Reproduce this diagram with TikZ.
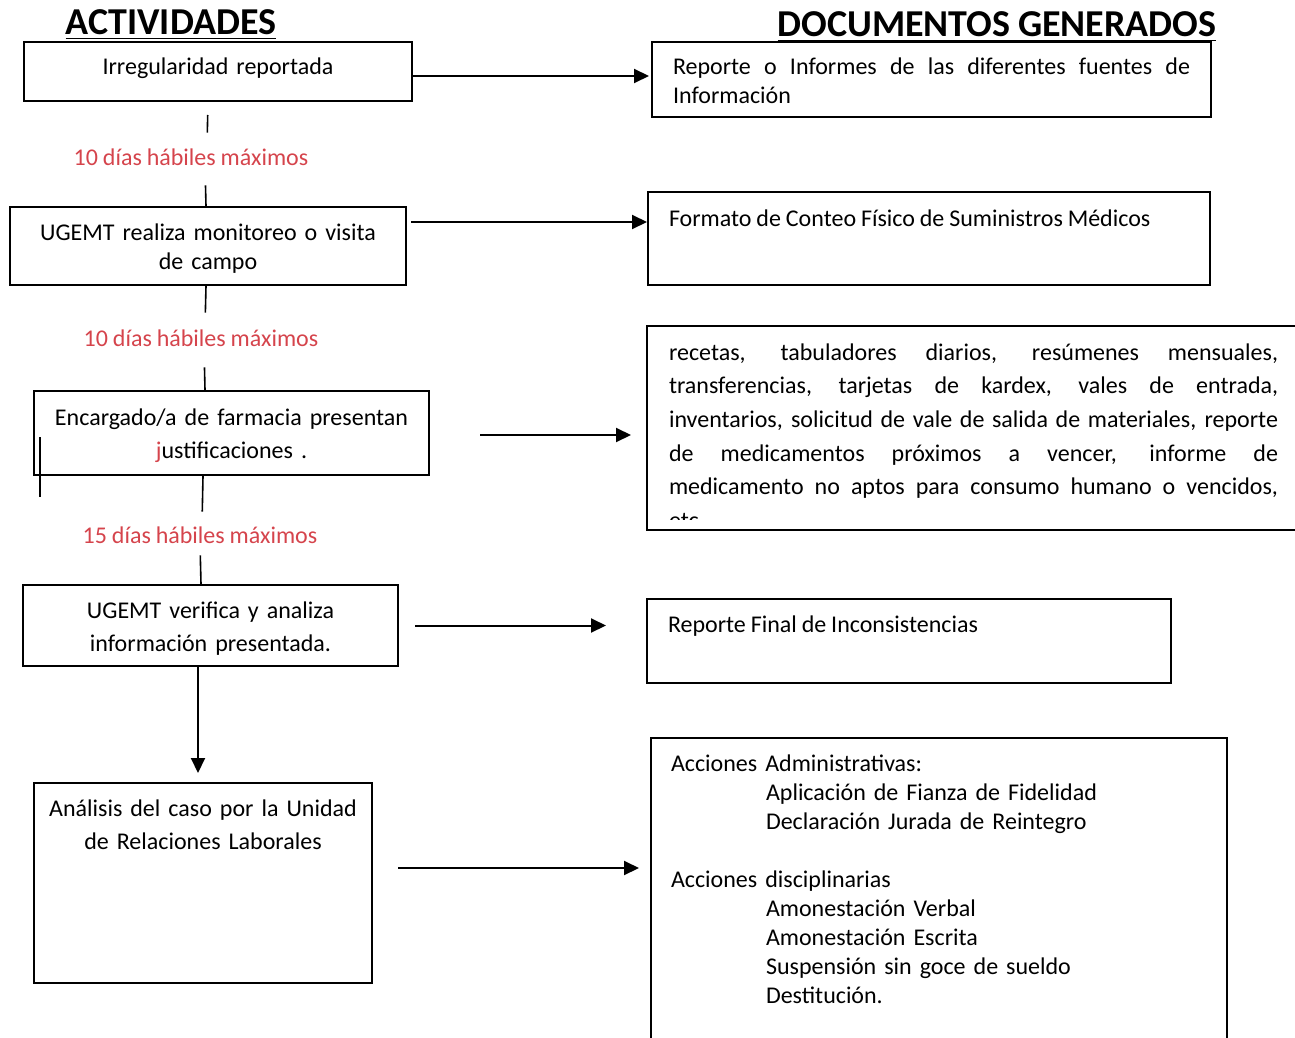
\documentclass[tikz,border=0pt]{standalone}
\usepackage{fontspec}
\setmainfont{Carlito}[WordSpace=0.9]
\usepackage{tikz}
\usetikzlibrary{arrows.meta,calc}
\definecolor{rojo}{RGB}{213,68,76}

\begin{document}
\begin{tikzpicture}[x=0.5pt, y=-0.5pt,
		caja/.style={draw, line width=1pt, anchor=north west, inner ysep=0pt},
		actividad/.style={caja, align=center, inner xsep=2pt, font=\fontsize{12}{16.5}\selectfont},
		documento/.style={caja, align=justify, inner xsep=10.5pt, font=\fontsize{12}{14.5}\selectfont},
		plazo/.style={text=rojo, anchor=base, inner sep=0pt, text height=9pt, text depth=0pt, font=\fontsize{12}{14.5}\selectfont},
		tramo/.style={line width=0.8pt},
		flecha/.style={line width=1pt, -{Triangle[length=7.5pt, width=7pt]}},
		titulo/.style={anchor=base, inner sep=0pt, font=\fontsize{19}{22}\selectfont\bfseries}]
		\useasboundingbox (0,0) rectangle (1295,1038);
		\node[titulo] (act) at (171,35) {\underline{ACTIVIDADES}};
		\node[titulo] (doc) at (997,37) {\underline{DOCUMENTOS GENERADOS}};

		\node[actividad, text width=190pt, text height=16.5pt, text depth=13pt] (irr) at (23,41) {Irregularidad reportada};
		\node[actividad, text width=194pt, text height=16.5pt, text depth=22.5pt, font=\fontsize{12}{14.5}\selectfont] (campo) at (9,206) {UGEMT realiza monitoreo o visita\\de campo};
		\node[actividad, text width=193.5pt, text height=17pt, text depth=25pt] (farm) at (33,390) {Encargado/a de farmacia presentan\\\textcolor{rojo}{j}ustificaciones .};
		\node[actividad, text width=183.5pt, text height=16.5pt, text depth=24pt] (verif) at (22,584) {UGEMT verifica y analiza\\información presentada.};
		\node[actividad, text width=165pt, text height=16.5pt, text depth=83.5pt] (anal) at (33,782) {Análisis del caso por la Unidad\\de Relaciones Laborales};

		\node[plazo] (lab1) at (191,165) {10 días hábiles máximos};
		\node[plazo] (lab2) at (201,346) {10 días hábiles máximos};
		\node[plazo] (lab3) at (200,543) {15 días hábiles máximos};

		\node[documento, text width=258.5pt, text height=16.5pt, text depth=21pt] (repA) at (651,41) {Reporte o Informes de las diferentes fuentes de\linebreak Información};
		\node[documento, text width=260pt, text height=17pt, text depth=29.5pt] (formB) at (647,191) {Formato de Conteo Físico de Suministros Médicos};
		\node[documento, inner xsep=11pt, text width=304.5pt, text height=17pt, text depth=85pt, font=\fontsize{12}{16.85}\selectfont] (docsC) at (646,325) {recetas, tabuladores diarios, resúmenes mensuales,\linebreak transferencias, tarjetas de kardex, vales de entrada,\linebreak inventarios, solicitud de vale de salida de materiales, reporte\linebreak de medicamentos próximos a vencer, informe de\linebreak medicamento no aptos para consumo humano o vencidos,\linebreak etc.};
		\fill[white] ($(docsC.south west)+(2,-2)$) rectangle ($(docsC.south east)+(-4,-11)$);
		\node[documento, text width=241pt, text height=16.5pt, text depth=25.5pt] (repD) at (646,598) {Reporte Final de Inconsistencias};
		\node[documento, align=left, inner xsep=10pt, text width=268pt, text height=16.5pt, text depth=145pt] (accE) at (650,737) {Acciones Administrativas:\\
			\hspace*{47.5pt}Aplicación de Fianza de Fidelidad\\
			\hspace*{47.5pt}Declaración Jurada de Reintegro\\[14.5pt]
			Acciones disciplinarias\\
			\hspace*{47.5pt}Amonestación Verbal\\
			\hspace*{47.5pt}Amonestación Escrita\\
			\hspace*{47.5pt}Suspensión sin goce de sueldo\\
			\hspace*{47.5pt}Destitución.};

		\draw[tramo, shorten <=6.5pt, shorten >=7pt] ([xshift=-5pt]irr.south) -- ([xshift=8pt]lab1.north);
		\draw[tramo, shorten <=10pt] ([xshift=7pt]lab1.south) -- ([xshift=-1pt]campo.north);
		\draw[tramo, shorten >=7.5pt] ([xshift=-1pt]campo.south) -- ([xshift=2pt]lab2.north);
		\draw[tramo, shorten <=10.5pt] ([xshift=1.5pt]lab2.south) -- ([xshift=-13.25pt]farm.north);
		\draw[tramo, shorten >=6.5pt] ([xshift=-14.25pt]farm.south) -- ([xshift=1pt]lab3.north);
		\draw[tramo, shorten <=6pt] (lab3.south) -- ([xshift=-4.75pt]verif.north);
		\draw[flecha, shorten >=4.5pt] ([xshift=-6.25pt]verif.south) -- ([xshift=-2.5pt]anal.north);
		\draw[tramo] ($(farm.south west)+(7,-39)$) -- ($(farm.south west)+(7,21)$);

		\draw[flecha, shorten >=1pt] ($(irr.east)+(0,4.5)$) -- ($(irr.east -| repA.west)+(0,4.5)$);
		\draw[flecha] ($(campo.east)+(4,-24)$) -- ($(campo.east -| formB.west)+(0,-24)$);
		\draw[flecha, shorten <=25pt, shorten >=7.5pt] ($(farm.east)+(0,2)$) -- ($(farm.east -| docsC.west)+(0,2)$);
		\draw[flecha, shorten <=8pt, shorten >=20pt] (verif.east) -- (verif.east -| repD.west);
		\draw[flecha, shorten <=12.5pt, shorten >=5.5pt] ($(anal.east)+(0,-15)$) -- ($(anal.east -| accE.west)+(0,-15)$);
	\end{tikzpicture}
\end{document}
